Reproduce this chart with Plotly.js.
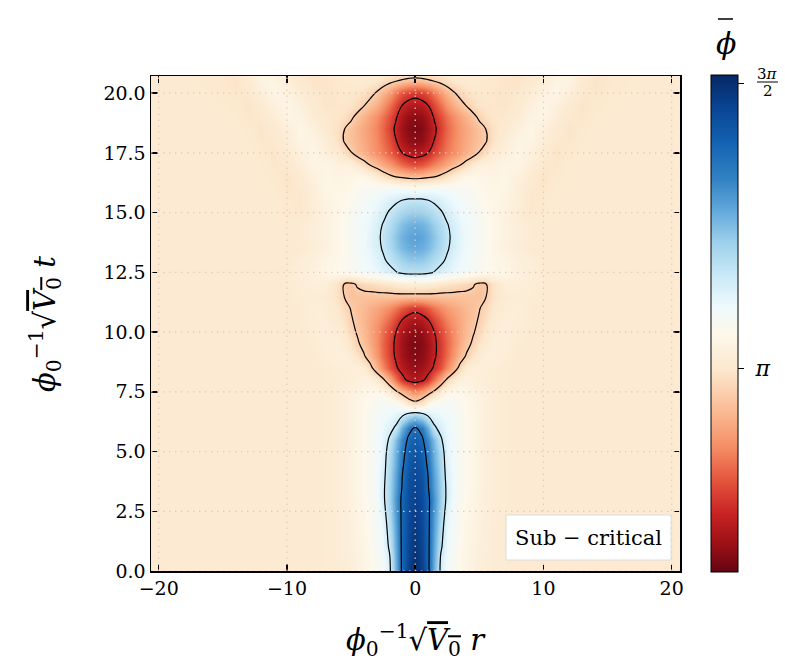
<!DOCTYPE html>
<html><head><meta charset="utf-8">
<script src="https://cdn.plot.ly/plotly-3.0.1.min.js"></script>
<style>html,body{margin:0;padding:0;background:#fff}</style>
</head><body>
<div id="chart" style="width:785px;height:667px"></div>
<script>
// radial coordinate (r >= 0 half; field is mirror-symmetric in r)
const rHalf = [0,0.5,1,1.5,2,2.5,3,3.5,4,4.5,5,5.5,6,7,8,9,10,11,12,13,14,16,18,21];
// time coordinate
const tVals = [0,0.5,1,1.5,2,2.5,3,3.5,4,4.5,5,5.5,6,6.5,7,7.5,8,8.5,9,9.5,10,10.5,11,11.5,12,12.5,13,13.5,14,14.5,15,15.5,16,16.5,17,17.5,18,18.5,19,19.5,20,20.5,21];
// field values phi-bar, one row per t, columns per rHalf
const phiHalf = [
[4.72,4.62,4.36,3.98,3.60,3.45,3.38,3.32,3.28,3.25,3.22,3.20,3.19,3.18,3.17,3.17,3.17,3.17,3.17,3.17,3.17,3.17,3.17,3.17],
[4.70,4.60,4.36,4.00,3.62,3.46,3.39,3.33,3.29,3.25,3.22,3.20,3.19,3.18,3.17,3.17,3.17,3.17,3.17,3.17,3.17,3.17,3.17,3.17],
[4.68,4.58,4.36,4.02,3.68,3.50,3.41,3.34,3.30,3.26,3.23,3.21,3.19,3.18,3.17,3.17,3.17,3.17,3.17,3.17,3.17,3.17,3.17,3.17],
[4.66,4.57,4.36,4.04,3.72,3.50,3.42,3.35,3.31,3.27,3.24,3.21,3.19,3.18,3.17,3.17,3.17,3.17,3.17,3.17,3.17,3.17,3.17,3.17],
[4.64,4.56,4.36,4.06,3.76,3.52,3.43,3.36,3.31,3.27,3.24,3.21,3.19,3.18,3.17,3.17,3.17,3.17,3.17,3.17,3.17,3.17,3.17,3.17],
[4.62,4.55,4.36,4.08,3.80,3.56,3.44,3.37,3.32,3.28,3.25,3.22,3.20,3.18,3.17,3.17,3.17,3.17,3.17,3.17,3.17,3.17,3.17,3.17],
[4.60,4.54,4.36,4.10,3.82,3.60,3.45,3.38,3.33,3.29,3.25,3.22,3.20,3.18,3.17,3.17,3.17,3.17,3.17,3.17,3.17,3.17,3.17,3.17],
[4.58,4.52,4.32,4.06,3.82,3.60,3.46,3.39,3.34,3.30,3.26,3.23,3.20,3.18,3.17,3.17,3.17,3.17,3.17,3.17,3.17,3.17,3.17,3.17],
[4.55,4.49,4.30,4.04,3.80,3.58,3.46,3.39,3.34,3.30,3.26,3.23,3.20,3.18,3.17,3.17,3.17,3.17,3.17,3.17,3.17,3.17,3.17,3.17],
[4.52,4.45,4.26,4.00,3.78,3.56,3.46,3.39,3.34,3.30,3.26,3.23,3.20,3.18,3.17,3.17,3.17,3.17,3.17,3.17,3.17,3.17,3.17,3.17],
[4.48,4.41,4.22,3.98,3.75,3.54,3.45,3.39,3.34,3.30,3.26,3.23,3.20,3.18,3.17,3.17,3.17,3.17,3.17,3.17,3.17,3.17,3.17,3.17],
[4.42,4.35,4.15,3.92,3.68,3.52,3.45,3.39,3.34,3.30,3.26,3.23,3.20,3.18,3.17,3.17,3.17,3.17,3.17,3.17,3.17,3.17,3.17,3.17],
[4.31,4.22,3.98,3.68,3.58,3.50,3.44,3.39,3.34,3.30,3.26,3.23,3.20,3.18,3.17,3.17,3.17,3.17,3.17,3.17,3.17,3.17,3.17,3.17],
[3.85,3.78,3.64,3.55,3.50,3.47,3.43,3.39,3.34,3.30,3.26,3.23,3.20,3.18,3.17,3.17,3.17,3.17,3.17,3.17,3.17,3.17,3.17,3.17],
[3.08,3.15,3.30,3.40,3.43,3.42,3.40,3.37,3.33,3.29,3.26,3.23,3.20,3.18,3.17,3.17,3.17,3.17,3.17,3.17,3.17,3.17,3.17,3.17],
[2.70,2.78,2.90,3.04,3.20,3.30,3.33,3.32,3.30,3.27,3.25,3.23,3.20,3.18,3.17,3.17,3.17,3.17,3.17,3.17,3.17,3.17,3.17,3.17],
[2.25,2.30,2.42,2.62,2.84,3.04,3.18,3.24,3.25,3.24,3.22,3.20,3.19,3.18,3.17,3.17,3.17,3.17,3.17,3.17,3.17,3.17,3.17,3.17],
[2.15,2.19,2.27,2.38,2.52,2.70,2.88,3.06,3.18,3.22,3.22,3.21,3.20,3.18,3.17,3.17,3.17,3.17,3.17,3.17,3.17,3.17,3.17,3.17],
[2.10,2.13,2.20,2.32,2.45,2.60,2.76,2.90,3.02,3.12,3.18,3.22,3.23,3.20,3.17,3.17,3.17,3.17,3.17,3.17,3.17,3.17,3.17,3.17],
[2.08,2.11,2.19,2.31,2.44,2.58,2.72,2.84,2.94,3.03,3.12,3.18,3.21,3.21,3.18,3.17,3.17,3.17,3.17,3.17,3.17,3.17,3.17,3.17],
[2.12,2.15,2.23,2.35,2.48,2.60,2.72,2.82,2.90,2.98,3.06,3.14,3.19,3.22,3.19,3.17,3.17,3.17,3.17,3.17,3.17,3.17,3.17,3.17],
[2.22,2.26,2.34,2.46,2.58,2.68,2.76,2.83,2.89,2.95,3.02,3.10,3.16,3.21,3.20,3.18,3.17,3.17,3.17,3.17,3.17,3.17,3.17,3.17],
[2.42,2.46,2.54,2.63,2.71,2.77,2.82,2.86,2.90,2.94,2.99,3.06,3.13,3.20,3.21,3.18,3.17,3.17,3.17,3.17,3.17,3.17,3.17,3.17],
[2.95,2.95,2.95,2.95,2.95,2.95,2.95,2.95,2.95,2.95,2.94,2.99,3.10,3.18,3.20,3.19,3.17,3.17,3.17,3.17,3.17,3.17,3.17,3.17],
[3.20,3.20,3.19,3.17,3.14,3.12,3.10,3.08,3.06,3.02,2.96,2.98,3.10,3.22,3.22,3.20,3.18,3.17,3.17,3.17,3.17,3.17,3.17,3.17],
[3.72,3.72,3.69,3.64,3.59,3.55,3.50,3.47,3.44,3.41,3.38,3.36,3.34,3.30,3.25,3.21,3.18,3.17,3.17,3.17,3.17,3.17,3.17,3.17],
[3.88,3.87,3.82,3.76,3.69,3.62,3.55,3.50,3.46,3.42,3.38,3.35,3.32,3.28,3.23,3.20,3.17,3.17,3.17,3.17,3.17,3.17,3.17,3.17],
[4.01,3.99,3.94,3.86,3.76,3.67,3.59,3.53,3.48,3.44,3.39,3.35,3.31,3.25,3.20,3.17,3.17,3.17,3.17,3.17,3.17,3.17,3.17,3.17],
[4.05,4.03,3.97,3.89,3.79,3.69,3.60,3.54,3.48,3.45,3.40,3.36,3.32,3.26,3.21,3.18,3.17,3.17,3.17,3.17,3.17,3.17,3.17,3.17],
[3.99,3.97,3.92,3.84,3.75,3.66,3.59,3.52,3.48,3.44,3.40,3.36,3.32,3.26,3.21,3.18,3.17,3.17,3.17,3.17,3.17,3.17,3.17,3.17],
[3.85,3.84,3.80,3.74,3.67,3.60,3.54,3.49,3.46,3.43,3.39,3.35,3.31,3.26,3.19,3.14,3.15,3.17,3.17,3.17,3.17,3.17,3.17,3.17],
[3.69,3.69,3.66,3.62,3.58,3.53,3.49,3.46,3.43,3.40,3.37,3.33,3.31,3.27,3.21,3.13,3.15,3.17,3.17,3.17,3.17,3.17,3.17,3.17],
[3.42,3.43,3.44,3.45,3.45,3.44,3.42,3.40,3.38,3.36,3.33,3.31,3.30,3.29,3.22,3.14,3.13,3.16,3.17,3.17,3.17,3.17,3.17,3.17],
[2.92,2.94,2.97,3.00,3.05,3.12,3.20,3.27,3.31,3.32,3.31,3.29,3.28,3.30,3.24,3.17,3.12,3.15,3.17,3.17,3.17,3.17,3.17,3.17],
[2.50,2.53,2.60,2.68,2.76,2.84,2.92,2.99,3.08,3.17,3.23,3.25,3.25,3.29,3.28,3.20,3.14,3.13,3.16,3.17,3.17,3.17,3.17,3.17],
[2.25,2.28,2.35,2.46,2.56,2.65,2.72,2.79,2.86,2.92,3.01,3.10,3.17,3.24,3.30,3.24,3.18,3.12,3.15,3.17,3.17,3.17,3.17,3.17],
[2.12,2.15,2.23,2.36,2.50,2.61,2.70,2.77,2.83,2.89,2.94,2.98,3.10,3.20,3.28,3.28,3.20,3.14,3.13,3.16,3.17,3.17,3.17,3.17],
[2.08,2.11,2.19,2.31,2.45,2.58,2.68,2.76,2.82,2.88,2.94,3.00,3.10,3.17,3.24,3.30,3.23,3.16,3.12,3.15,3.17,3.17,3.17,3.17],
[2.12,2.15,2.23,2.37,2.50,2.62,2.72,2.80,2.87,2.95,3.03,3.10,3.13,3.14,3.19,3.27,3.29,3.20,3.14,3.13,3.16,3.17,3.17,3.17],
[2.25,2.28,2.35,2.48,2.62,2.75,2.86,2.94,3.01,3.08,3.12,3.13,3.13,3.12,3.16,3.23,3.30,3.24,3.16,3.12,3.15,3.17,3.17,3.17],
[2.42,2.45,2.52,2.64,2.77,2.88,2.98,3.05,3.10,3.13,3.14,3.14,3.13,3.12,3.14,3.20,3.26,3.30,3.22,3.14,3.13,3.16,3.17,3.17],
[2.90,2.92,2.96,3.00,3.05,3.10,3.14,3.16,3.17,3.17,3.16,3.16,3.15,3.12,3.12,3.15,3.22,3.28,3.27,3.16,3.12,3.15,3.17,3.17],
[3.25,3.25,3.24,3.23,3.22,3.20,3.18,3.17,3.17,3.17,3.17,3.17,3.17,3.15,3.12,3.12,3.16,3.24,3.30,3.23,3.14,3.13,3.17,3.17]
];
const contourLevels = {start: 2.35, end: 4.30, size: 0.65};
const zMin = 2.02, zMax = 4.76;
const xTicks = [-20,-10,0,10,20];
const yTicks = [0,2.5,5,7.5,10,12.5,15,17.5,20];
const cbTickVals = [Math.PI, 1.5*Math.PI];
const cbTickText = [' <i>π</i>', ''];
const legendText = 'Sub − critical';

const csFrac = [0,0.05,0.117,0.185,0.25,0.32,0.407,0.48,0.535,0.59,0.66,0.725,0.79,0.86,0.93,1];
const csColor = ['rgb(100,5,20)','rgb(150,15,22)','rgb(200,35,35)','rgb(228,85,62)','rgb(245,140,100)','rgb(250,185,145)','rgb(252,232,205)','rgb(253,248,235)','rgb(238,249,252)','rgb(205,235,248)','rgb(160,210,235)','rgb(100,170,220)','rgb(50,130,195)','rgb(20,100,180)','rgb(10,70,150)','rgb(5,40,100)'];
const colorscale = csFrac.map((f,i)=>[f, csColor[i]]);

// mirror the half field to the full r axis
const xFull = rHalf.slice(1).map(v=>-v).reverse().concat(rHalf);
const zFull = phiHalf.map(row => row.slice(1).reverse().concat(row));

const FONT = 'DejaVu Serif';
const L = 151, R = 680, T = 76, B = 571;
const W = R - L, H = B - T;
const px = x => (x - L) / W;
const py = y => (B - y) / H;

const heat = {
  type: 'heatmap', x: xFull, y: tVals, z: zFull, zsmooth: 'best',
  colorscale: colorscale, zmin: zMin, zmax: zMax,
  colorbar: {
    thickness: 27, thicknessmode: 'pixels', len: 497, lenmode: 'pixels',
    x: px(711), xanchor: 'left', xpad: 0, ypad: 0, y: 0.5, yanchor: 'middle',
    outlinewidth: 1, outlinecolor: '#000',
    tickmode: 'array', tickvals: cbTickVals, ticktext: cbTickText,
    ticks: 'outside', ticklen: 6, tickwidth: 1.5, tickcolor: '#000',
    tickfont: {family: FONT, size: 22, color: '#000'}
  },
  hoverinfo: 'skip'
};
const cont = {
  type: 'contour', x: xFull, y: tVals, z: zFull,
  autocontour: false, contours: {start: contourLevels.start, end: contourLevels.end, size: contourLevels.size, coloring: 'none'},
  line: {color: '#000', width: 1.2, smoothing: 1.3},
  showscale: false, hoverinfo: 'skip'
};

const gridColor = 'rgb(236,198,186)';
const shapes = [];
xTicks.forEach(v => shapes.push({type:'line', xref:'x', yref:'paper', x0:v, x1:v, y0:0, y1:1, line:{color:gridColor, width:1.2, dash:'1.5px,4.5px'}, layer:'above'}));
yTicks.forEach(v => shapes.push({type:'line', xref:'paper', yref:'y', x0:0, x1:1, y0:v, y1:v, line:{color:gridColor, width:1.2, dash:'1.5px,4.5px'}, layer:'above'}));
// legend-like label box
shapes.push({type:'rect', xref:'paper', yref:'paper', x0:px(506), x1:px(671), y0:py(560), y1:py(515), fillcolor:'#fff', line:{color:'rgb(220,220,220)', width:1}, layer:'above'});
// fraction bar for 3pi/2 and bar over phi
shapes.push({type:'line', xref:'paper', yref:'paper', x0:px(757), x1:px(778), y0:py(82), y1:py(82), line:{color:'#000', width:1}});
shapes.push({type:'line', xref:'paper', yref:'paper', x0:px(718), x1:px(733), y0:py(19), y1:py(19), line:{color:'#000', width:1.5}});

const annotations = [
  {xref:'paper', yref:'paper', x:px(588.5), y:py(537.5), text:legendText, showarrow:false, font:{family:FONT, size:21, color:'#000'}, xanchor:'center', yanchor:'middle'},
  {xref:'paper', yref:'paper', x:px(767.5), y:py(73.5), text:'3<i>π</i>', showarrow:false, font:{family:FONT, size:15, color:'#000'}, xanchor:'center', yanchor:'middle'},
  {xref:'paper', yref:'paper', x:px(767.5), y:py(91), text:'2', showarrow:false, font:{family:FONT, size:15, color:'#000'}, xanchor:'center', yanchor:'middle'},
  {xref:'paper', yref:'paper', x:px(726), y:py(43), text:'<i>ϕ</i>', showarrow:false, font:{family:FONT, size:30, color:'#000'}, xanchor:'center', yanchor:'middle'},
  {xref:'paper', yref:'paper', x:px(415.5), y:py(640), text:'<i>ϕ</i><sub>0</sub><sup>−1</sup>√<span style="text-decoration:overline"><i>V</i><sub>0</sub></span> <i>r</i>', showarrow:false, font:{family:FONT, size:29, color:'#000'}, xanchor:'center', yanchor:'middle'},
  {xref:'paper', yref:'paper', x:px(45), y:py(324), text:'<i>ϕ</i><sub>0</sub><sup>−1</sup>√<span style="text-decoration:overline"><i>V</i><sub>0</sub></span> <i>t</i>', showarrow:false, textangle:-90, font:{family:FONT, size:29, color:'#000'}, xanchor:'center', yanchor:'middle'}
];

const axisCommon = {
  showline: true, linecolor: '#000', linewidth: 1.5, mirror: 'ticks',
  ticks: 'inside', ticklen: 7, tickwidth: 1.5, tickcolor: '#000',
  showgrid: false, zeroline: false, layer: 'above traces',
  tickfont: {family: FONT, size: 19, color: '#000'}
};
const layout = {
  width: 785, height: 667, margin: {l: L, r: 785 - R, t: T, b: 667 - B},
  paper_bgcolor: '#fff', plot_bgcolor: '#fff', showlegend: false,
  xaxis: Object.assign({}, axisCommon, {range: [-20.6, 20.65], tickmode: 'array', tickvals: xTicks, ticktext: xTicks.map(v => v < 0 ? '−' + Math.abs(v) : String(v))}),
  yaxis: Object.assign({}, axisCommon, {range: [0, 20.72], tickmode: 'array', tickvals: yTicks, ticktext: yTicks.map(v => v.toFixed(1))}),
  shapes: shapes, annotations: annotations
};
Plotly.newPlot('chart', [heat, cont], layout, {displayModeBar: false, staticPlot: true});
</script>
</body></html>
